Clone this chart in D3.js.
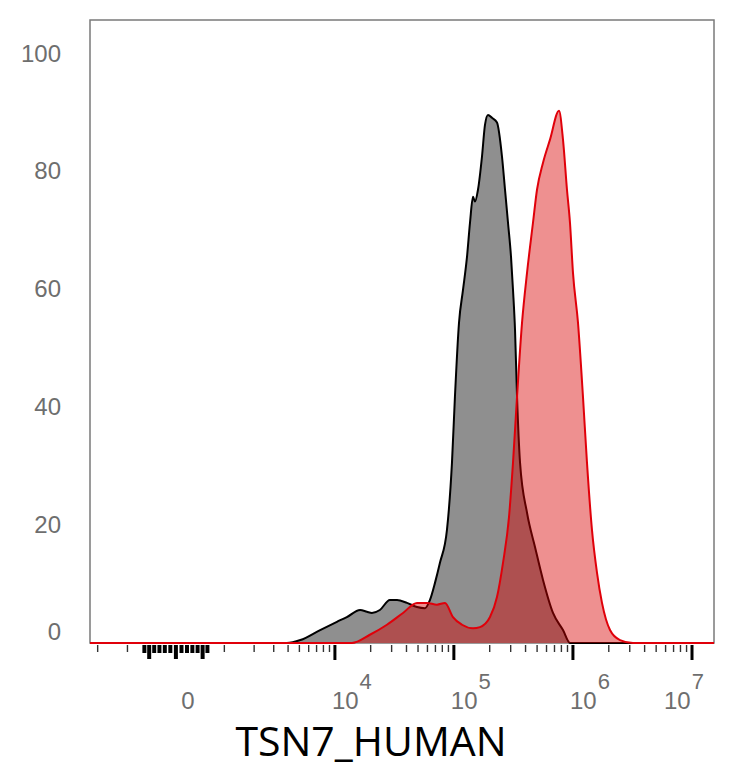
<!DOCTYPE html>
<html>
<head>
<meta charset="utf-8">
<script src="https://cdn.jsdelivr.net/npm/d3@7"></script>
<style>
  body { margin: 0; background: #fff; }
  svg { display: block; }
  .g-tick-label { font-family: "Liberation Sans", Arial, sans-serif; fill: #6e6e6e; }
  .g-title { font-family: "Open Sans", "Noto Sans", sans-serif; fill: #000; }
</style>
</head>
<body>
<div class="g-chart"></div>
<script>
// fluorescence values (x) and % of max (y)
const blackX = [3900, 5100, 7500, 10400, 12600, 16300, 18600, 20500, 23900, 29000, 33300, 40400, 49000, 57200, 63000, 69400, 76400, 87500, 96400, 102100, 110400, 119300, 128900, 136600, 144800, 150400, 159400, 172200, 182500, 193500, 209000, 230200, 253700, 268900, 284900, 302000, 313800, 326300, 339300, 359500, 411500, 480100, 560700, 680100, 825100, 944500];
const blackY = [0, 0.5, 2.2, 3.6, 4.4, 5.6, 5.3, 5.1, 5.6, 7.3, 7.3, 6.8, 6.1, 5.9, 7.3, 10.2, 13.6, 19.2, 30.6, 41.8, 54.3, 59.9, 65.5, 71.3, 75.7, 74.9, 76.9, 82.5, 87.9, 89.6, 89.1, 88.3, 82.5, 76.9, 71.3, 65.5, 59.9, 53.1, 41.8, 30.6, 22.1, 16.3, 10.7, 5.1, 2.2, 0];

const redX = [13900, 19700, 27400, 37400, 49000, 59400, 72100, 84200, 98300, 117000, 144800, 165700, 201100, 230200, 258600, 290500, 313800, 339300, 373500, 411500, 461800, 499100, 560700, 641700, 764000, 825100, 891300, 944500, 1001000, 1103000, 1214000, 1312000, 1445000, 1593000, 1754000, 2048000, 2485000, 3194000];
const redY = [0, 1.4, 3.1, 5.1, 6.8, 6.8, 6.5, 6.8, 4.4, 3.1, 2.5, 2.7, 4.4, 7.8, 13.6, 21.4, 30.6, 41.8, 54.3, 62.8, 71.3, 76.9, 81.5, 85.4, 90.3, 85.4, 76.9, 71.3, 62.8, 54.3, 41.8, 30.6, 19.2, 11.9, 6.8, 2.2, 0.5, 0];

const yTicks = [0, 20, 40, 60, 80, 100];
const xMajors = [1e4, 1e5, 1e6, 1e7];
const xMinors = [-2000, -1000,
  1000, 2000, 3000, 4000, 5000, 6000, 7000, 8000, 9000,
  2e4, 3e4, 4e4, 5e4, 6e4, 7e4, 8e4, 9e4,
  2e5, 3e5, 4e5, 5e5, 6e5, 7e5, 8e5, 9e5,
  2e6, 3e6, 4e6, 5e6, 6e6, 7e6, 8e6, 9e6];
const xNearZero = [-600, -500, -400, -300, -200, -100, 0, 100, 200, 300, 400, 500, 600];
const xTitle = "TSN7_HUMAN";

let width = 734, height = 768;
let pleft = 90, pright = 714, ptop = 20, pbottom = 643;

// biexponential-ish display: asinh transform, linear in transformed space
let cof = 926;
let xMin = -2350, xMax = 1.53e7;
let tx = v => Math.asinh(v / cof);
let xs = d3.scaleLinear().domain([tx(xMin), tx(xMax)]).range([pleft, pright]);
let x = v => xs(tx(v));
let y = d3.scaleLinear().domain([0, 105.7]).range([pbottom, ptop]);

let svg = d3.select(".g-chart").append("svg").attr("width", width).attr("height", height);

svg.append("defs").append("clipPath").attr("id", "plotclip")
  .append("rect").attr("x", pleft).attr("y", ptop - 2).attr("width", pright - pleft).attr("height", pbottom - ptop + 4);

// frame
svg.append("rect")
  .attr("x", pleft).attr("y", ptop)
  .attr("width", pright - pleft).attr("height", pbottom - ptop)
  .style("fill", "none").style("stroke", "#7a7a7a").style("stroke-width", 1.5);

function series(xv, yv) {
  let pts = xv.map((d, i) => ({v: d, c: yv[i]}));
  return [{v: xMin, c: 0}].concat(pts).concat([{v: xMax, c: 0}]);
}
let black = series(blackX, blackY);
let red = series(redX, redY);

let area = d3.area().x(d => x(d.v)).y0(y(0)).y1(d => y(d.c)).curve(d3.curveMonotoneX);
let line = d3.line().x(d => x(d.v)).y(d => y(d.c)).curve(d3.curveMonotoneX);

let plot = svg.append("g").attr("clip-path", "url(#plotclip)");
plot.append("path").datum(black).attr("d", area).style("fill", "#8f8f8f");
plot.append("path").datum(black).attr("d", line).style("fill", "none").style("stroke", "#000").style("stroke-width", 2);
plot.append("path").datum(red).attr("d", area).style("fill", "rgba(216,0,0,0.435)");
plot.append("path").datum(red).attr("d", line).style("fill", "none").style("stroke", "#e0000a").style("stroke-width", 2);

// y labels (no tick marks), the 0 label sits a bit higher
svg.selectAll("text.g-ylab").data(yTicks).enter().append("text")
  .attr("class", "g-tick-label g-ylab")
  .attr("x", 61)
  .attr("y", d => y(d) + 8 - (d == 0 ? 11 : 0))
  .style("text-anchor", "end")
  .style("font-size", "24px")
  .text(d => d);

// x ticks
let tickg = svg.append("g").attr("class", "x ticks");
tickg.selectAll("line.g-minor").data(xMinors).enter().append("line")
  .attr("x1", d => x(d)).attr("x2", d => x(d))
  .attr("y1", pbottom + 2).attr("y2", pbottom + 9)
  .style("stroke", "#333").style("stroke-width", 1.4);
tickg.selectAll("line.g-zero").data(xNearZero).enter().append("line")
  .attr("x1", d => x(d)).attr("x2", d => x(d))
  .attr("y1", pbottom + 2).attr("y2", d => pbottom + (d % 500 == 0 ? 16 : 10))
  .style("stroke", "#000").style("stroke-width", 4);
tickg.selectAll("line.g-major").data(xMajors).enter().append("line")
  .attr("x1", d => x(d)).attr("x2", d => x(d))
  .attr("y1", pbottom + 2).attr("y2", pbottom + 17)
  .style("stroke", "#000").style("stroke-width", 3);

// x labels
svg.append("text").attr("class", "g-tick-label")
  .attr("x", x(0) + 12).attr("y", 709)
  .style("text-anchor", "middle").style("font-size", "24px")
  .text("0");

xMajors.forEach(function(d, i) {
  let exp = Math.round(Math.log10(d));
  let lx = x(d) - 3 - (i == xMajors.length - 1 ? 25 : 0);
  let t = svg.append("text").attr("class", "g-tick-label")
    .attr("x", lx).attr("y", 709)
    .style("font-size", "24px");
  t.append("tspan").text("10");
  t.append("tspan").attr("dx", 1).attr("dy", -20).style("font-size", "22px").text(exp);
});

svg.append("text").attr("class", "g-title")
  .attr("x", 371).attr("y", 756)
  .style("text-anchor", "middle").style("font-size", "41px")
  .text(xTitle);
</script>
</body>
</html>
